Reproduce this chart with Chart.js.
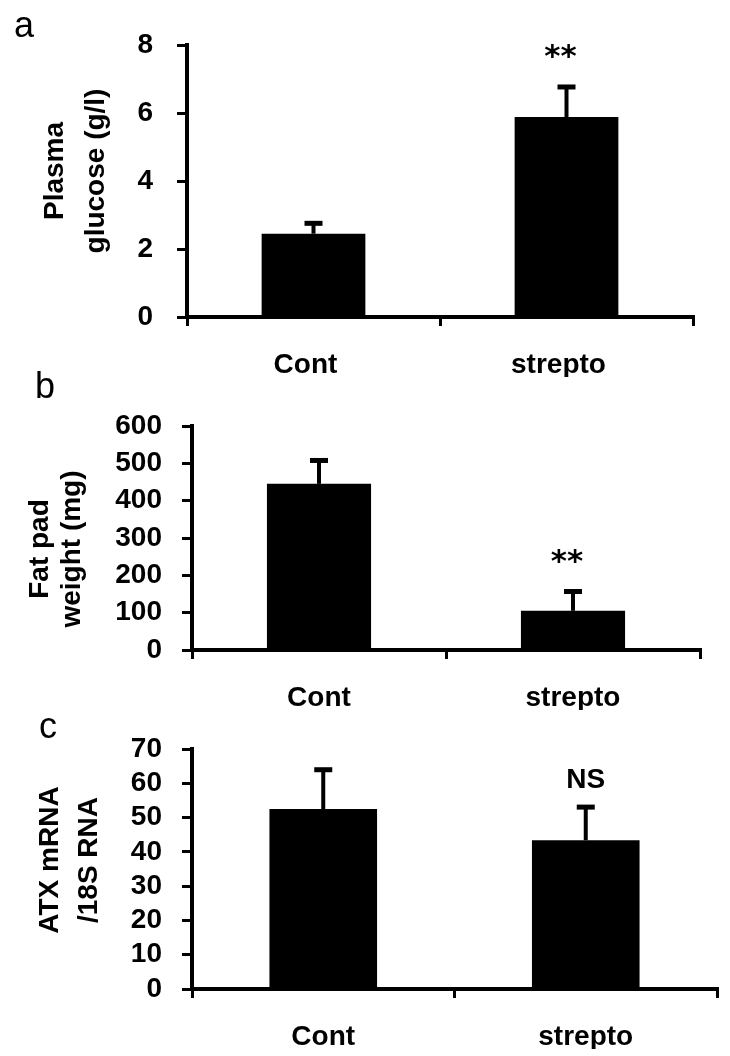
<!DOCTYPE html>
<html>
<head>
<title></title>
<script src="https://cdn.jsdelivr.net/npm/chart.js@4.4.0/dist/chart.umd.min.js"></script>
<style>
  body { margin: 0; background: #fff; }
  #page { position: relative; width: 730px; height: 1056px; }
  .panel { position: absolute; left: 0; width: 730px; }
</style>
</head>
<body>
<div id="page">
  <div class="panel" style="top:0px; height:385px;"><canvas id="chartA"></canvas></div>
  <div class="panel" style="top:355px; height:365px;"><canvas id="chartB"></canvas></div>
  <div class="panel" style="top:700px; height:356px;"><canvas id="chartC"></canvas></div>
</div>
<script>
var categories = ['Cont', 'strepto'];

// a: plasma glucose (g/l)
var glucoseMean = [2.45, 5.88];
var glucoseErr = [0.32, 0.90];
var glucoseTicks = [0, 2, 4, 6, 8];
var glucoseMarks = ['', '**'];

// b: fat pad weight (mg)
var fatMean = [445, 105];
var fatErr = [64, 53];
var fatTicks = [0, 100, 200, 300, 400, 500, 600];
var fatMarks = ['', '**'];

// c: ATX mRNA / 18S RNA
var atxMean = [52.5, 43.4];
var atxErr = [11.6, 9.8];
var atxTicks = [0, 10, 20, 30, 40, 50, 60, 70];
var atxMarks = ['', 'NS'];

Chart.defaults.font.family = "'Liberation Sans', Arial, sans-serif";
Chart.defaults.color = '#000';

function makePanel(id, o) {
  // error bars, significance marks, y title and panel letter
  var extras = {
    id: 'extras_' + id,
    afterDatasetsDraw: function(chart) {
      var ctx = chart.ctx;
      var y = chart.scales.y;
      var meta = chart.getDatasetMeta(0);
      ctx.save();
      ctx.strokeStyle = '#000';
      ctx.fillStyle = '#000';
      meta.data.forEach(function(bar, i) {
        var top = y.getPixelForValue(o.mean[i] + o.err[i]);
        ctx.lineWidth = 4;
        ctx.beginPath();
        ctx.moveTo(bar.x, bar.y);
        ctx.lineTo(bar.x, top);
        ctx.stroke();
        ctx.fillRect(bar.x - 9, top - 2, 18, 5);
        var m = o.marks[i];
        if (m) {
          ctx.textAlign = 'center';
          ctx.textBaseline = 'alphabetic';
          if (m === 'NS') {
            ctx.font = 'bold 28px "Liberation Sans"';
            ctx.fillText(m, bar.x, top - 29 + 10);
          } else {
            ctx.font = 'bold 31px "DejaVu Sans"';
            ctx.fillText(m, bar.x - 6, top - 38 + 18);
          }
        }
      });
      ctx.restore();
    },
    afterDraw: function(chart) {
      var ctx = chart.ctx;
      ctx.save();
      ctx.fillStyle = '#000';
      ctx.font = 'bold 28px "Liberation Sans"';
      ctx.textAlign = 'center';
      ctx.textBaseline = 'alphabetic';
      o.title.forEach(function(line, i) {
        ctx.save();
        ctx.translate(o.titleX[i], o.titleY);
        ctx.rotate(-Math.PI / 2);
        ctx.fillText(line, 0, 0);
        ctx.restore();
      });
      ctx.font = '36px "Liberation Sans"';
      ctx.textAlign = 'left';
      ctx.fillText(o.letter, o.letterX, o.letterY);
      ctx.restore();
    }
  };

  var H = o.height;
  return new Chart(document.getElementById(id), {
    type: 'bar',
    data: {
      labels: categories,
      datasets: [{
        data: o.mean,
        backgroundColor: '#000',
        borderWidth: 0,
        barPercentage: 0.41,
        categoryPercentage: 1.0
      }]
    },
    options: {
      responsive: true,
      maintainAspectRatio: false,
      animation: false,
      layout: {
        padding: { left: 0, top: o.areaTop, right: 730 - o.right, bottom: H - o.areaBottom - 60 }
      },
      plugins: { legend: { display: false }, tooltip: { enabled: false } },
      scales: {
        x: {
          afterFit: function(s) { s.height = 60; },
          grid: { display: true, drawOnChartArea: false, drawTicks: true, tickLength: 9, lineWidth: 3, color: '#000', offset: true },
          border: { display: true, width: 4, color: '#000' },
          ticks: { padding: 22, labelOffset: o.labelShift, font: { size: 28, weight: 'bold' }, color: '#000' }
        },
        y: {
          min: o.ticks[0],
          max: o.ticks[o.ticks.length - 1],
          afterFit: function(s) { s.width = o.left; },
          grid: { display: true, drawOnChartArea: false, drawTicks: true, tickLength: 10, lineWidth: 3, color: '#000' },
          border: { display: true, width: 4, color: '#000' },
          ticks: { stepSize: o.ticks[1] - o.ticks[0], autoSkip: false, padding: o.tickPad, font: { size: 28, weight: 'bold' }, color: '#000' }
        }
      }
    },
    plugins: [extras]
  });
}

makePanel('chartA', {
  mean: glucoseMean, err: glucoseErr, ticks: glucoseTicks, marks: glucoseMarks,
  height: 385, left: 187, right: 693, areaTop: 45, areaBottom: 317, tickPad: 24, labelShift: -8,
  title: ['Plasma', 'glucose (g/l)'], titleX: [63, 104], titleY: 171,
  letter: 'a', letterX: 14, letterY: 37
});

makePanel('chartB', {
  mean: fatMean, err: fatErr, ticks: fatTicks, marks: fatMarks,
  height: 365, left: 192, right: 700, areaTop: 71, areaBottom: 295, tickPad: 20, labelShift: 0,
  title: ['Fat pad', 'weight (mg)'], titleX: [48, 80], titleY: 194,
  letter: 'b', letterX: 35, letterY: 43
});

makePanel('chartC', {
  mean: atxMean, err: atxErr, ticks: atxTicks, marks: atxMarks,
  height: 356, left: 192, right: 717, areaTop: 49, areaBottom: 289, tickPad: 20, labelShift: 0,
  title: ['ATX mRNA', '/18S RNA'], titleX: [58, 97], titleY: 160,
  letter: 'c', letterX: 39, letterY: 38
});
</script>
</body>
</html>
